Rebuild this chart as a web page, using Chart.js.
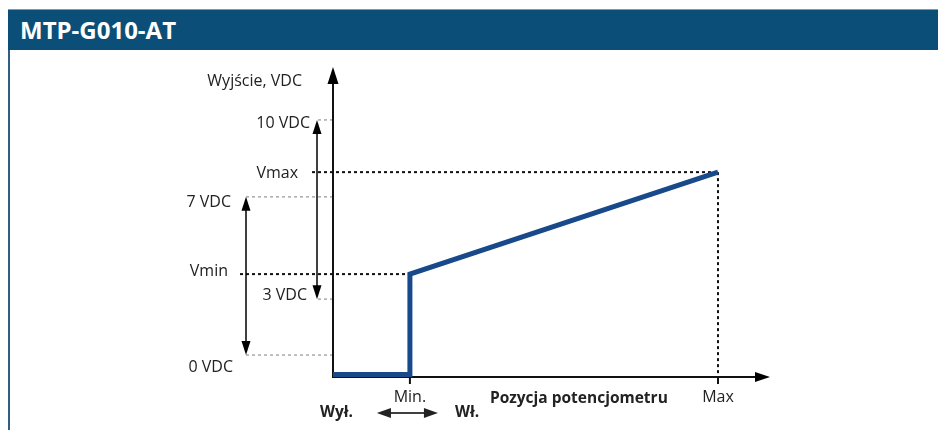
<!DOCTYPE html>
<html>
<head>
<meta charset="utf-8">
<script src="https://cdn.jsdelivr.net/npm/chart.js@4"></script>
<style>
  body { margin: 0; background: #fff; width: 938px; height: 430px; overflow: hidden; position: relative; }
  .header {
    position: absolute; left: 8px; top: 9px; right: 0; height: 41px;
    background: #0b4f79; border-top: 1px solid #7f99ad;
    color: #fff; font: bold 24px "Open Sans", sans-serif; line-height: 40px;
    padding-left: 12px; box-sizing: border-box;
  }
  .side { position: absolute; left: 8px; top: 50px; width: 2px; height: 380px; background: #2f5f85; }
  #chart { position: absolute; left: 0; top: 0; }
</style>
</head>
<body>
<div class="header">MTP-G010-AT</div>
<div class="side"></div>
<canvas id="chart" width="938" height="430"></canvas>
<script>
/**************************************************************
 * 1. Data (schematic units, 0-100 on both axes)
 **************************************************************/
const levelLabels = ["10 VDC", "Vmax", "7 VDC", "Vmin", "3 VDC", "0 VDC"];
const levelValues = [83.2, 66.3, 58.3, 33.3, 25.2, 7.1];

const positionLabels = ["Min.", "Max"];
const positionValues = [17.6, 88.1];

// Output curve: off below Min, then jumps to Vmin and rises to Vmax
const outputX = [0, 17.6, 17.6, 88.1];
const outputY = [0.8, 0.8, 33.3, 66.3];

const yTitle = "Wyjście, VDC";
const xTitle = "Pozycja potencjometru";
const offLabel = "Wył.";
const onLabel = "Wł.";

/**************************************************************
 * 2. Drawing helpers
 **************************************************************/
const FONT = '"Open Sans", sans-serif';

function arrowHead(ctx, x, y, dir, len, half) {
  ctx.beginPath();
  if (dir === "up") { ctx.moveTo(x, y); ctx.lineTo(x - half, y + len); ctx.lineTo(x + half, y + len); }
  if (dir === "down") { ctx.moveTo(x, y); ctx.lineTo(x - half, y - len); ctx.lineTo(x + half, y - len); }
  if (dir === "right") { ctx.moveTo(x, y); ctx.lineTo(x - len, y - half); ctx.lineTo(x - len, y + half); }
  if (dir === "left") { ctx.moveTo(x, y); ctx.lineTo(x + len, y - half); ctx.lineTo(x + len, y + half); }
  ctx.closePath();
  ctx.fill();
}

function line(ctx, x1, y1, x2, y2, color, width, dash) {
  ctx.save();
  ctx.strokeStyle = color;
  ctx.lineWidth = width;
  ctx.setLineDash(dash || []);
  ctx.beginPath();
  ctx.moveTo(x1, y1);
  ctx.lineTo(x2, y2);
  ctx.stroke();
  ctx.restore();
}

function text(ctx, str, x, y, align, bold) {
  ctx.font = bold ? "bold 15.5px " + FONT : "16px " + FONT;
  ctx.fillStyle = "#222";
  ctx.textAlign = align;
  ctx.textBaseline = "middle";
  ctx.fillText(str, x, y);
}

// label placement per level: right edge offset from y-axis, text y offset, guide start, guide kind
const levelLayout = [
  { dx: -23, dy: 4, from: -15, kind: "gray" },
  { dx: -35, dy: 1, from: -21, kind: "black", to: 1 },
  { dx: -102, dy: 6, from: -87, kind: "gray" },
  { dx: -105, dy: -3, from: -93, kind: "black", to: 0 },
  { dx: -26, dy: -4, from: -15, kind: "gray" },
  { dx: -100, dy: 12, from: -87, kind: "gray" }
];

/**************************************************************
 * 3. Schematic plugin
 **************************************************************/
const schematic = {
  id: "schematic",
  beforeDatasetsDraw(chart) {
    const { ctx, scales: { x, y } } = chart;
    const ax = x.getPixelForValue(0);
    const ay = y.getPixelForValue(0);

    // guide lines
    levelValues.forEach((v, i) => {
      const L = levelLayout[i];
      const py = y.getPixelForValue(v);
      if (L.kind === "gray") {
        line(ctx, ax + L.from, py, ax, py, "#aaaaaa", 1.5, [3, 3]);
      } else {
        const px = x.getPixelForValue(positionValues[L.to]);
        line(ctx, ax + L.from, py, px, py, "#111", 2, [3, 3]);
        if (L.to === 1) line(ctx, px, py, px, ay, "#111", 2, [3, 3]);
      }
    });

    // axes
    ctx.fillStyle = "#000";
    line(ctx, ax, ay + 1, ax, y.getPixelForValue(100) + 12, "#111", 2);
    arrowHead(ctx, ax, y.getPixelForValue(100) - 1, "up", 17, 5.5);
    line(ctx, ax - 1, ay, x.getPixelForValue(100) - 10, ay, "#111", 2);
    arrowHead(ctx, x.getPixelForValue(100), ay, "right", 15, 5);

    // position ticks
    positionValues.forEach(v => {
      const px = x.getPixelForValue(v);
      line(ctx, px, ay, px, ay + 7, "#111", 2);
    });
  },
  afterDatasetsDraw(chart) {
    const { ctx, scales: { x, y } } = chart;
    const ax = x.getPixelForValue(0);
    const ay = y.getPixelForValue(0);

    // level labels
    levelValues.forEach((v, i) => {
      const L = levelLayout[i];
      text(ctx, levelLabels[i], ax + L.dx, y.getPixelForValue(v) + L.dy, "right");
    });
    text(ctx, yTitle, ax - 31, y.getPixelForValue(100) + 13, "right");

    // range arrows: 0..7 VDC and 3..10 VDC
    ctx.fillStyle = "#000";
    const ranges = [[2, 5, -87], [0, 4, -16]];
    ranges.forEach(([top, bot, dx]) => {
      const px = ax + dx;
      const y1 = y.getPixelForValue(levelValues[top]);
      const y2 = y.getPixelForValue(levelValues[bot]);
      line(ctx, px, y1 + 10, px, y2 - 10, "#000", 1.5);
      arrowHead(ctx, px, y1, "up", 14, 4.5);
      arrowHead(ctx, px, y2, "down", 14, 4.5);
    });

    // position labels
    positionValues.forEach((v, i) => {
      text(ctx, positionLabels[i], x.getPixelForValue(v), ay + 20, "center");
    });
    text(ctx, xTitle, x.getPixelForValue(positionValues[0]) + 80, ay + 22, "left", true);

    // on/off switch arrow under Min.
    const mx = x.getPixelForValue(positionValues[0]);
    text(ctx, offLabel, mx - 57, ay + 36, "right", true);
    text(ctx, onLabel, mx + 45, ay + 36, "left", true);
    line(ctx, mx - 24, ay + 36, mx + 19, ay + 36, "#000", 1.5);
    arrowHead(ctx, mx - 33, ay + 36, "left", 14, 5);
    arrowHead(ctx, mx + 28, ay + 36, "right", 14, 5);
  }
};

/**************************************************************
 * 4. Chart
 **************************************************************/
new Chart(document.getElementById("chart"), {
  type: "scatter",
  data: {
    datasets: [{
      data: outputX.map((v, i) => ({ x: v, y: outputY[i] })),
      showLine: true,
      borderColor: "#17498b",
      borderWidth: 5,
      pointRadius: 0,
      borderJoinStyle: "miter",
      borderCapStyle: "butt",
      clip: false
    }]
  },
  options: {
    responsive: false,
    animation: false,
    layout: { padding: { left: 333, right: 168, top: 68, bottom: 53 } },
    scales: {
      x: { type: "linear", min: 0, max: 100, display: false },
      y: { type: "linear", min: 0, max: 100, display: false }
    },
    plugins: { legend: { display: false }, tooltip: { enabled: false } }
  },
  plugins: [schematic]
});
</script>
</body>
</html>
